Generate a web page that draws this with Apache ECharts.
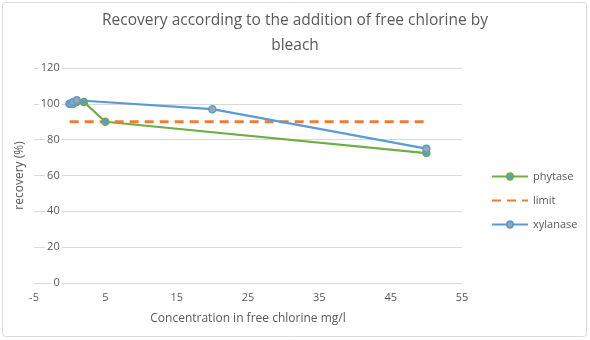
<!DOCTYPE html>
<html><head><meta charset="utf-8">
<script src="https://cdn.jsdelivr.net/npm/echarts@6/dist/echarts.min.js"></script>
<style>html,body{margin:0;padding:0;background:#fff}#c{width:590px;height:340px}</style>
</head><body><div id="c"></div>
<script>
const titleText = "Recovery according to the addition of free chlorine by\nbleach";
const xName = "Concentration in free chlorine mg/l";
const yName = "recovery (%)";
const phytaseX = [0, 0.5, 1, 2, 5, 50];
const phytaseY = [100, 100, 101, 101, 90, 72.5];
const xylanaseX = [0, 0.25, 0.5, 1, 20, 50];
const xylanaseY = [100, 100, 101, 102, 97, 75];
const limitX = [0, 50];
const limitY = [90, 90];
const seriesNames = ["phytase", "limit", "xylanase"];
const xMin = -5, xMax = 55, xStep = 10;
const yMin = 0, yMax = 120, yStep = 20;

const W = 590, gridLeft = 34, gridRight = 128;
// vertical axis crosses the horizontal one at x = 0
const yAxisOffset = -(0 - xMin) * (W - gridLeft - gridRight) / (xMax - xMin);

const zip = (a, b) => a.map((v, i) => [v, b[i]]);
const font = "'Open Sans', 'Liberation Sans', sans-serif";
const chart = echarts.init(document.getElementById('c'), null, {renderer: 'canvas'});
chart.setOption({
  animation: false,
  textStyle: {fontFamily: font, color: '#595959'},
  graphic: [{type: 'rect', shape: {x: 2.5, y: 2.5, width: 584, height: 334, r: 3}, style: {fill: 'none', stroke: '#d9d9d9', lineWidth: 1}, z: -1}],
  title: {text: titleText, left: 'center', top: 3,
    textStyle: {fontFamily: font, fontSize: 15.5, fontWeight: 'normal', color: '#595959', lineHeight: 25}},
  legend: {orient: 'vertical', left: 486, top: 166, itemWidth: 36, itemHeight: 8, itemGap: 13,
    textStyle: {fontFamily: font, fontSize: 11, color: '#595959'},
    data: [{name: seriesNames[0]}, {name: seriesNames[1], itemStyle: {opacity: 0}}, {name: seriesNames[2]}]},
  grid: {left: gridLeft, right: gridRight, top: 68, bottom: 57, containLabel: false, outerBoundsMode: 'none'},
  xAxis: {type: 'value', min: xMin, max: xMax, interval: xStep,
    name: xName, nameLocation: 'middle', nameGap: 30,
    nameTextStyle: {fontFamily: font, fontSize: 12, color: '#595959'},
    axisLine: {show: true, onZero: false, lineStyle: {color: '#d9d9d9'}},
    axisTick: {show: false}, splitLine: {show: false},
    axisLabel: {fontFamily: font, fontSize: 11, color: '#595959', margin: 9}},
  yAxis: {type: 'value', min: yMin, max: yMax, interval: yStep, position: 'left', offset: yAxisOffset,
    name: yName, nameLocation: 'middle', nameGap: 44,
    nameTextStyle: {fontFamily: font, fontSize: 12, color: '#595959'},
    axisLine: {show: false}, axisTick: {show: false},
    splitLine: {show: true, lineStyle: {color: '#d9d9d9'}},
    axisLabel: {fontFamily: font, fontSize: 11, color: '#595959', margin: 8, backgroundColor: '#fff', padding: [0, 2]}},
  series: [
    {name: seriesNames[0], type: 'line', data: zip(phytaseX, phytaseY), symbol: 'circle', symbolSize: 7,
      lineStyle: {color: '#70AD47', width: 2.25}, itemStyle: {color: '#5B9BD5', borderColor: '#70AD47', borderWidth: 1.5}, color: '#70AD47'},
    {name: seriesNames[1], type: 'line', data: zip(limitX, limitY), symbol: 'none',
      lineStyle: {color: '#ED7D31', width: 3, type: [9, 6]}, itemStyle: {color: '#ED7D31'}, color: '#ED7D31'},
    {name: seriesNames[2], type: 'line', data: zip(xylanaseX, xylanaseY), symbol: 'circle', symbolSize: 7,
      lineStyle: {color: '#5B9BD5', width: 2.25}, itemStyle: {color: '#A5A5A5', borderColor: '#5B9BD5', borderWidth: 1.5}, color: '#5B9BD5'}
  ]
});
</script></body></html>
